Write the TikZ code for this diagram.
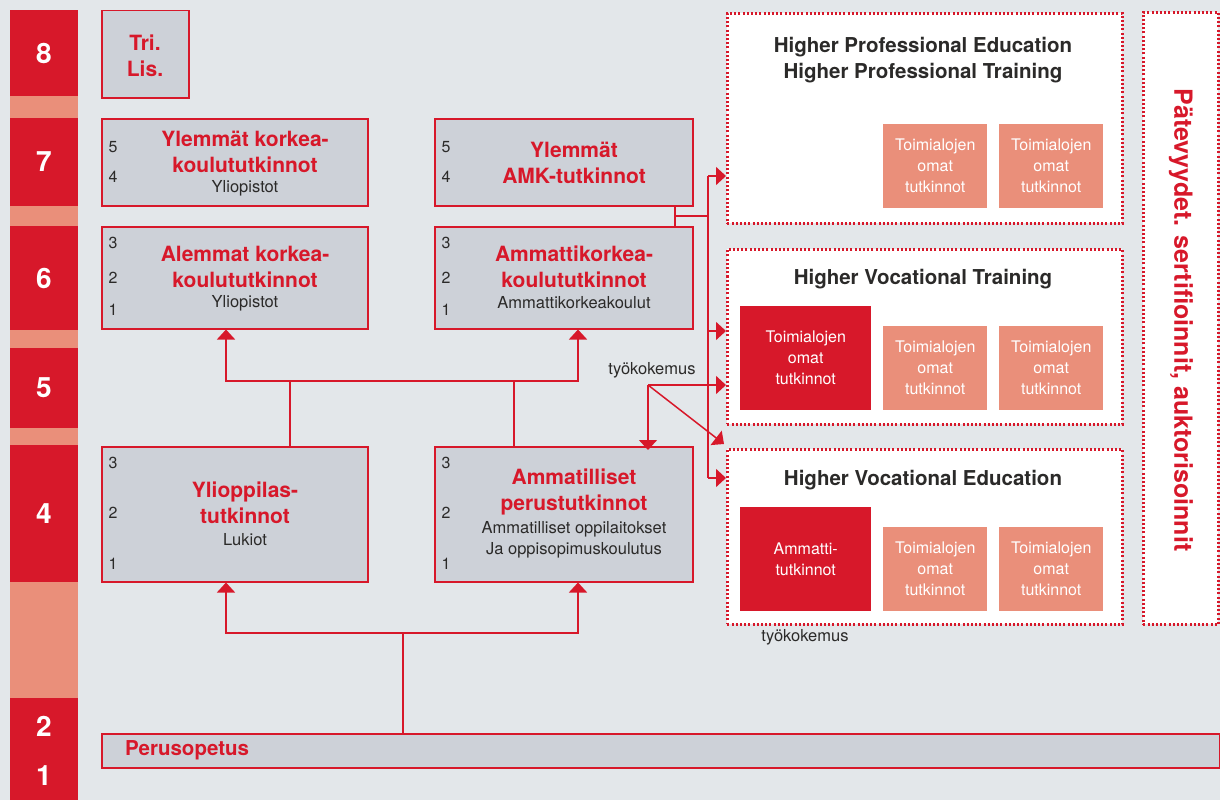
\documentclass[tikz,border=0pt]{standalone}
\usepackage{fontspec}
\setmainfont{TeX Gyre Heros}
\usetikzlibrary{arrows.meta}

\definecolor{hkred}{HTML}{D7182A}
\definecolor{hksalmon}{HTML}{EA8F7A}
\definecolor{boxgray}{HTML}{CDD1D8}
\definecolor{bggray}{HTML}{E3E7EA}
\definecolor{dark}{HTML}{2B2A29}

\tikzset{
  lvnum/.style={text=white, font=\fontsize{28}{30}\selectfont\bfseries},
  gbox/.style={draw=hkred, fill=boxgray, line width=1.5pt, anchor=north west, inner sep=0pt},
  dbox/.style={draw=hkred, fill=white, line width=2.6pt, dash pattern=on 2pt off 2.2pt, anchor=north west, inner sep=0pt},
  ttl/.style={text=hkred, font=\fontsize{21}{26}\selectfont\bfseries, align=center},
  sub/.style={text=dark, font=\fontsize{16.5}{21}\selectfont, align=center},
  num/.style={text=dark, font=\fontsize{16}{18}\selectfont},
  head/.style={text=dark, font=\fontsize{20.5}{26}\selectfont\bfseries, align=center},
  tbox/.style={text=white, font=\fontsize{16}{21}\selectfont, align=center, anchor=north west, inner sep=0pt},
  link/.style={draw=hkred, line width=1.5pt},
  arr/.style={link, -{Triangle[width=18pt,length=10pt]}},
}

\begin{document}
\begin{tikzpicture}[x=1pt,y=-1pt]
        % background
        \useasboundingbox (0,0) rectangle (1220,800);
        \fill[bggray] (0,0) rectangle (1220,800);

        % level column
        \foreach \ya/\yb/\c in {10/96/hkred,96/118/hksalmon,118/206/hkred,206/226/hksalmon,226/330/hkred,330/348/hksalmon,348/428/hkred,428/445/hksalmon,445/582/hkred,582/698/hksalmon,698/800/hkred}
            \fill[\c] (10,\ya) rectangle (78,\yb);
        \foreach \n/\y in {8/53,7/162,6/278,5/388,4/514,2/726,1/776}
            \node[lvnum] (lv\n) at (44,\y) {\n};

        % university boxes
        \node[gbox, minimum width=87pt, minimum height=87pt] (trilis) at (101,10) {};
        \node[ttl] at (145,56) {Tri.\\Lis.};
        \node[gbox, minimum width=266pt, minimum height=87pt] (ylkk) at (101,118) {};
        \node[ttl] at (245,152) {Ylemmät korkea-\\koulututkinnot};
        \node[sub] at (245,188) {Yliopistot};
        \node[gbox, minimum width=266pt, minimum height=102pt] (alkk) at (101,226) {};
        \node[ttl] at (245,267) {Alemmat korkea-\\koulututkinnot};
        \node[sub] at (245,303) {Yliopistot};
        \node[gbox, minimum width=266pt, minimum height=135pt] (ylop) at (101,446) {};
        \node[ttl] at (245,503) {Ylioppilas-\\tutkinnot};
        \node[sub] at (245,540) {Lukiot};

        % polytechnic and vocational boxes
        \node[gbox, minimum width=258pt, minimum height=87pt] (yamk) at (434,118) {};
        \node[ttl] at (574,163) {Ylemmät\\AMK-tutkinnot};
        \node[gbox, minimum width=258pt, minimum height=102pt] (amkk) at (434,226) {};
        \node[ttl] at (574,267) {Ammattikorkea-\\koulututkinnot};
        \node[sub] at (574,303) {Ammattikorkeakoulut};
        \node[gbox, minimum width=258pt, minimum height=135pt] (ampt) at (434,446) {};
        \node[ttl] at (574,492) {Ammatilliset\\perustutkinnot};
        \node[sub] at (574,540) {Ammatilliset oppilaitokset\\Ja oppisopimuskoulutus};

        % credit numbers
        \foreach \x in {113,446} {
            \node[num] at (\x,147) {5};
            \node[num] at (\x,177) {4};
            \node[num] at (\x,243) {3};
            \node[num] at (\x,278) {2};
            \node[num] at (\x,310) {1};
            \node[num] at (\x,463) {3};
            \node[num] at (\x,513) {2};
            \node[num] at (\x,564) {1};
        }

        % basic education
        \node[gbox, minimum width=1118pt, minimum height=34pt] (perus) at (101,733) {};
        \node[text=hkred, font=\fontsize{20.5}{24}\selectfont\bfseries, anchor=west, inner sep=0pt] at (125,750) {Perusopetus};

        % dotted boxes
        \node[dbox, minimum width=395pt, minimum height=210pt] (hpe) at (726,12) {};
        \node[head] at (923,60) {Higher Professional Education\\Higher Professional Training};
        \node[dbox, minimum width=395pt, minimum height=175pt] (hvt) at (726,248) {};
        \node[head] at (923,279) {Higher Vocational Training};
        \node[dbox, minimum width=395pt, minimum height=175pt] (hve) at (726,448) {};
        \node[head] at (923,480) {Higher Vocational Education};
        \node[dbox, minimum width=75pt, minimum height=612pt] (patev) at (1142,11) {};
        \node[rotate=-90, text=hkred, font=\fontsize{25}{28}\selectfont\bfseries] at (1181,320) {Pätevyydet. sertifioinnit, auktorisoinnit};

        % qualification boxes
        \foreach \x in {883,999} {
            \node[tbox, fill=hksalmon, minimum width=104pt, minimum height=84pt] at (\x,124) {Toimialojen\\omat\\tutkinnot};
            \node[tbox, fill=hksalmon, minimum width=104pt, minimum height=84pt] at (\x,326) {Toimialojen\\omat\\tutkinnot};
            \node[tbox, fill=hksalmon, minimum width=104pt, minimum height=84pt] at (\x,527) {Toimialojen\\omat\\tutkinnot};
        }
        \node[tbox, fill=hkred, minimum width=131pt, minimum height=104pt] (hvtred) at (740,306) {Toimialojen\\omat\\tutkinnot};
        \node[tbox, fill=hkred, minimum width=131pt, minimum height=104pt] (hvered) at (740,507) {Ammatti-\\tutkinnot};

        % connectors from basic education
        \coordinate (j1) at (403,633);
        \draw[link] (perus.north -| j1) -- (j1);
        \draw[arr] (j1) -| (ylop.south -| 226,0);
        \draw[arr] (j1) -| (ampt.south -| 578,0);

        % connectors to level 6
        \coordinate (j2) at (290,381);
        \coordinate (j3) at (514,381);
        \draw[link] (ylop.north -| j2) -- (j2);
        \draw[link] (ampt.north -| j3) -- (j3);
        \draw[link] (j2) -- (j3);
        \draw[arr] (j2) -| (alkk.south -| 226,0);
        \draw[arr] (j3) -| (amkk.south -| 578,0);

        % bus to the right
        \coordinate (bus) at (708,216);
        \draw[link] (yamk.south -| 675,0) -- (amkk.north -| 675,0);
        \draw[link] (675,216) -- (bus);
        \draw[link] (708,176) -- (708,478);
        \draw[arr] (708,176) -- (hpe.west |- 0,176);
        \draw[arr] (708,331) -- (hvt.west |- 0,331);
        \draw[arr] (708,478) -- (hve.west |- 0,478);

        % work experience
        \coordinate (tk) at (648,385);
        \node[sub] (tklabel) at (652,370) {työkokemus};
        \draw[arr] (tk) -- (hvt.west |- tk);
        \draw[arr] (tk) -- (724,444);
        \draw[arr] (tk) -- ([yshift=-4pt]ampt.north -| tk);
        \node[sub] (tklabel2) at (805,637) {työkokemus};
\end{tikzpicture}
\end{document}
